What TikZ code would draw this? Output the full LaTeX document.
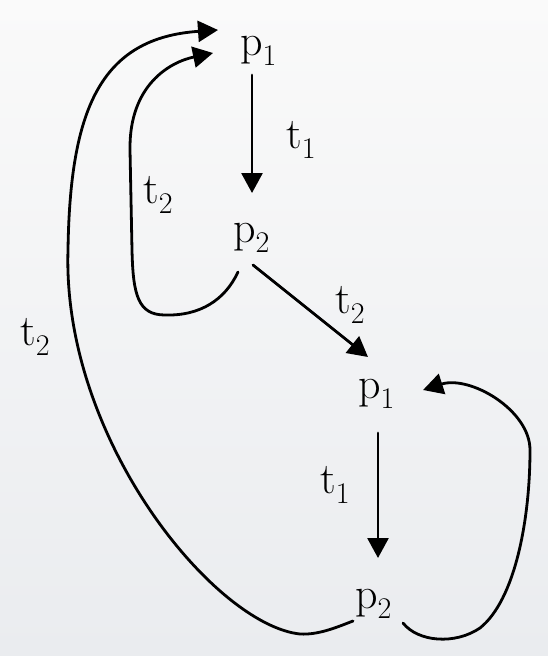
\documentclass[tikz,border=0pt]{standalone}
\usepackage{fontspec}
\usetikzlibrary{arrows.meta}
\newcommand\mysub[1]{\raisebox{-10pt}{\fontsize{30}{30}\selectfont #1}}
\definecolor{bgtop}{RGB}{250,250,250}
\definecolor{bgbot}{RGB}{234,236,239}
\begin{document}
\begin{tikzpicture}[x=1pt,y=-1pt,
  lbl/.style={anchor=base west, inner sep=0pt, font=\rmfamily\fontsize{44}{50}\selectfont},
  conn/.style={line width=2.8pt, line join=round, line cap=round, -{Triangle[length=20pt,width=21pt]}},
  ]
\shade[top color=bgtop, bottom color=bgbot] (0,0) rectangle (548,656);
\useasboundingbox (0,0) rectangle (548,656);

\node[lbl] (p1a) at (240,55) {p\mysub{1}};
\node[lbl] (p2a) at (233,242) {p\mysub{2}};
\node[lbl] (p1b) at (358,398) {p\mysub{1}};
\node[lbl] (p2b) at (355,608) {p\mysub{2}};

\node[lbl] (t1a) at (286,148) {t\mysub{1}};
\node[lbl] (t2a) at (143,203) {t\mysub{2}};
\node[lbl] (t2b) at (20,345) {t\mysub{2}};
\node[lbl] (t2c) at (335,313) {t\mysub{2}};
\node[lbl] (t1b) at (320,493) {t\mysub{1}};

% straight arrows
\draw[conn] ([shift={(12,20)}]p1a.base west) -- ([shift={(19,-49)}]p2a.base west);
\draw[conn] ([shift={(20,23)}]p2a.base west) -- ([shift={(10,-41)}]p1b.base west);
\draw[conn] ([shift={(20,35)}]p1b.base west) -- ([shift={(23,-50)}]p2b.base west);

% inner loop p2 -> p1 (top)
\draw[conn] ([shift={(5,30)}]p2a.base west)
  .. controls (225,300) and (200,316) .. (165,315)
  .. controls (138,315) and (133,295) .. (132,250)
  -- (130,150)
  .. controls (129,85) and (170,62) .. ([shift={(-27,-2)}]p1a.base west);

% outer loop p2 (bottom) -> p1 (top)
\draw[conn] ([shift={(-2,13)}]p2b.base west)
  .. controls (335,628) and (318,635) .. (300,634)
  .. controls (215,625) and (62,440) .. (68,250)
  .. controls (70,110) and (100,38) .. ([shift={(-22,-25)}]p1a.base west);

% self loop p2 (bottom) -> p1 (middle)
\draw[conn] ([shift={(48,15)}]p2b.base west)
  .. controls (418,642) and (455,645) .. (480,628)
  .. controls (515,600) and (530,520) .. (530,450)
  .. controls (530,410) and (470,375) .. ([shift={(65,-8)}]p1b.base west);
\end{tikzpicture}
\end{document}
